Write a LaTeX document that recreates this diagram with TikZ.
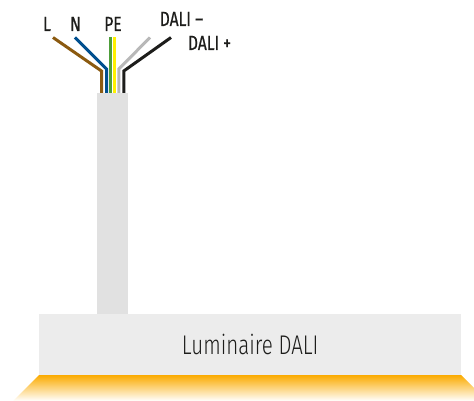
\documentclass[tikz,border=0pt]{standalone}
\usepackage{fontspec}
\setmainfont{Fira Sans}
\newfontfamily\lblfont[FakeStretch=0.76,FakeBold=0.5]{Fira Sans}
\newfontfamily\boxfont[FakeStretch=0.76]{Fira Sans Light}
\usetikzlibrary{calc}
\definecolor{wbrown}{HTML}{8B5A10}
\definecolor{wblue}{HTML}{004F8F}
\definecolor{wgreen}{HTML}{4E9E3A}
\definecolor{wyellow}{HTML}{FFF000}
\definecolor{wgray}{HTML}{B8B8B8}
\definecolor{wblack}{HTML}{1D1D1B}
\definecolor{cablegray}{HTML}{E1E1E1}
\definecolor{boxgray}{HTML}{ECECEC}
\definecolor{glow}{HTML}{FBAB00}
\tikzset{
  wire/.style={line width=3pt,line join=miter},
  lbl/.style={font=\lblfont\fontsize{20.5}{20.5}\selectfont,text=wblack,inner sep=0pt,anchor=base},
}
\begin{document}
\begin{tikzpicture}[x=1pt,y=-1pt]
\useasboundingbox (0,0) rectangle (474,401);
\clip (0,0) rectangle (474,401);
\fill[cablegray] (97,93) rectangle (128,314);
\node[fill=boxgray,minimum width=422pt,minimum height=61pt,inner sep=0pt,anchor=north west,font=\boxfont\fontsize{27}{27}\selectfont,text=wblack] (box) at (39,314) {Luminaire DALI};
\shade[top color=glow,bottom color=white] (39,375) -- (13,401) -- (487,401) -- (461,375) -- cycle;
\coordinate (c1) at (101.5,93); \coordinate (c2) at (106.5,93); \coordinate (c3) at (110.5,93);
\coordinate (c4) at (114.5,93); \coordinate (c5) at (118.8,93); \coordinate (c6) at (123.8,93);
\draw[wire,wbrown] (53,37.5) -- (101.5,71) -- (c1);
\draw[wire,wblue] (75,37.5) -- (106.5,69) -- (c2);
\draw[wire,wgreen] (110.5,37.5) -- (c3);
\draw[wire,wyellow] (114.5,37.5) -- (c4);
\draw[wire,wgray] (150,37.5) -- (118.8,69) -- (c5);
\draw[wire,wblack] (171,37.5) -- (123.8,71) -- (c6);
\node[lbl] (l) at (47,31) {L};
\node[lbl] (n) at (75.5,31) {N};
\node[lbl] (pe) at (113,31) {PE};
\node[lbl] (dm) at (181.5,26) {DALI –};
\node[lbl] (dp) at (209.5,50) {DALI +};
\end{tikzpicture}
\end{document}
